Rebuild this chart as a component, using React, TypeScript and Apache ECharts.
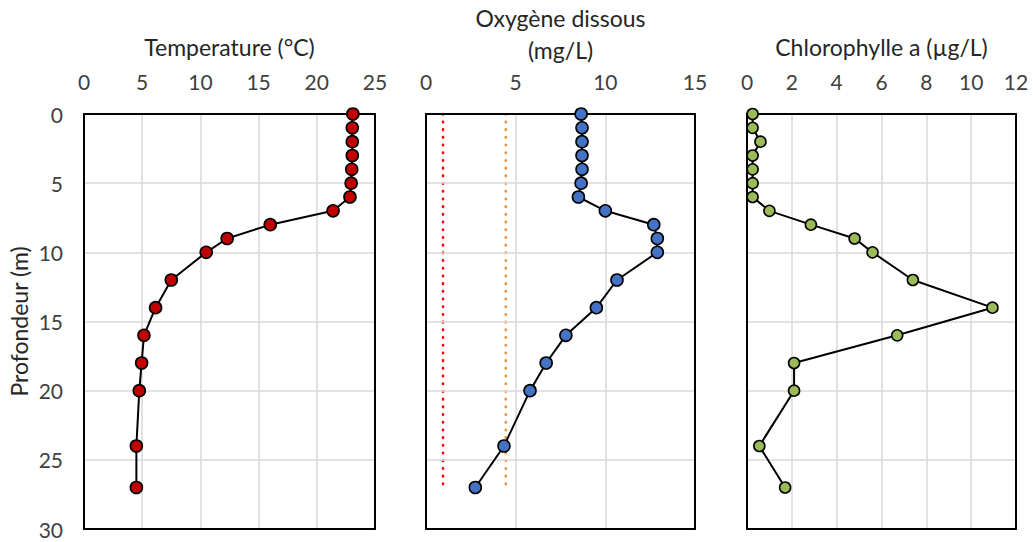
import React, { useEffect, useRef } from "react";
import * as echarts from "echarts";

const depths = [0, 1, 2, 3, 4, 5, 6, 7, 8, 9, 10, 12, 14, 16, 18, 20, 24, 27];
const temperature = [23.1, 23.05, 23.05, 23.05, 23.0, 22.95, 22.85, 21.4, 16.0, 12.3, 10.5, 7.5, 6.15, 5.15, 4.95, 4.75, 4.5, 4.5];
const oxygen = [8.65, 8.7, 8.7, 8.7, 8.7, 8.65, 8.5, 10.0, 12.7, 12.9, 12.9, 10.65, 9.5, 7.8, 6.7, 5.8, 4.35, 2.75];
const chlorophyll = [0.25, 0.25, 0.6, 0.25, 0.25, 0.25, 0.25, 1.0, 2.85, 4.8, 5.6, 7.4, 10.95, 6.7, 2.1, 2.1, 0.55, 1.7];
const thresholdRed = [0.95, 0.95];
const thresholdOrange = [4.45, 4.45];
const thresholdDepths = [0, 27];

const titles = ["Temperature (°C)", "Oxygène dissous\n(mg/L)", "Chlorophylle a (µg/L)"];
const yTitle = "Profondeur (m)";

const FONT = "Lato";

export default function App() {
  const ref = useRef<HTMLDivElement>(null);
  useEffect(() => {
    if (!ref.current) return;
    const chart = echarts.init(ref.current, undefined, { renderer: "svg" });
    const pairs = (xs: number[], ys: number[]) => xs.map((v, i) => [v, ys[i]]);
    const grids = [
      { left: 84, top: 114, width: 291, height: 415 },
      { left: 426, top: 114, width: 269, height: 415 },
      { left: 747, top: 114, width: 269, height: 415 },
    ].map((g) => ({ ...g, show: false, containLabel: false, outerBoundsMode: "none" }));
    const xRanges = [
      { max: 25, interval: 5, gap: 51 },
      { max: 15, interval: 5, gap: 44 },
      { max: 12, interval: 2, gap: 51 },
    ];
    const xTop = xRanges.map((r, i) => ({
      type: "value",
      gridIndex: i,
      position: "top",
      min: 0,
      max: r.max,
      interval: r.interval,
      name: titles[i],
      nameLocation: "middle",
      nameGap: r.gap,
      nameTextStyle: { fontFamily: FONT, fontSize: 23, color: "#262626", lineHeight: 32 },
      axisLine: { show: true, lineStyle: { color: "#000", width: 2 } },
      axisTick: { show: false },
      axisLabel: { fontFamily: FONT, fontSize: 21, color: "#404040", margin: 22 },
      splitLine: { show: true, lineStyle: { color: "#D9D9D9", width: 1.5 } },
      z: 4,
    }));
    const xBottom = xRanges.map((r, i) => ({
      type: "value",
      gridIndex: i,
      position: "bottom",
      min: 0,
      max: r.max,
      interval: r.interval,
      axisLine: { show: true, onZero: false, lineStyle: { color: "#000", width: 2 } },
      axisTick: { show: false },
      axisLabel: { show: false },
      splitLine: { show: false },
      z: 4,
    }));
    const yLeft = [0, 1, 2].map((i) => ({
      type: "value",
      gridIndex: i,
      position: "left",
      inverse: true,
      min: 0,
      max: 30,
      interval: 5,
      name: i === 0 ? yTitle : "",
      nameLocation: "middle",
      nameGap: 54,
      nameTextStyle: { fontFamily: FONT, fontSize: 23, color: "#262626" },
      axisLine: { show: true, onZero: false, lineStyle: { color: "#000", width: 2 } },
      axisTick: { show: false },
      axisLabel: { show: i === 0, fontFamily: FONT, fontSize: 21, color: "#404040", margin: 21 },
      splitLine: { show: true, lineStyle: { color: "#D9D9D9", width: 1.5 } },
      z: 4,
    }));
    const yRight = [0, 1, 2].map((i) => ({
      type: "value",
      gridIndex: i,
      position: "right",
      inverse: true,
      min: 0,
      max: 30,
      interval: 5,
      axisLine: { show: true, onZero: false, lineStyle: { color: "#000", width: 2 } },
      axisTick: { show: false },
      axisLabel: { show: false },
      splitLine: { show: false },
      z: 4,
    }));
    const profile = (idx: number, values: number[], color: string, size: number) => ({
      type: "line",
      xAxisIndex: idx,
      yAxisIndex: idx,
      data: pairs(values, depths),
      symbol: "circle",
      symbolSize: size,
      lineStyle: { color: "#000", width: 2 },
      itemStyle: { color, borderColor: "#000", borderWidth: 1.6 },
      z: 5,
    });
    const threshold = (values: number[], color: string) => ({
      type: "line",
      xAxisIndex: 1,
      yAxisIndex: 1,
      data: pairs(values, thresholdDepths),
      symbol: "none",
      lineStyle: { color, width: 2.6, type: [0.5, 7.2], cap: "round" },
      z: 3,
    });
    chart.setOption({
      animation: false,
      backgroundColor: "#fff",
      grid: grids,
      xAxis: [...xTop, ...xBottom],
      yAxis: [...yLeft, ...yRight],
      series: [
        threshold(thresholdRed, "#FF0000"),
        threshold(thresholdOrange, "#F4903A"),
        profile(0, temperature, "#C00000", 12),
        profile(1, oxygen, "#4472C4", 12),
        profile(2, chlorophyll, "#9BBB59", 11),
      ],
    });
    return () => chart.dispose();
  }, []);
  return <div ref={ref} style={{ position: "absolute", left: 0, top: 0, width: 1033, height: 542 }} />;
}
